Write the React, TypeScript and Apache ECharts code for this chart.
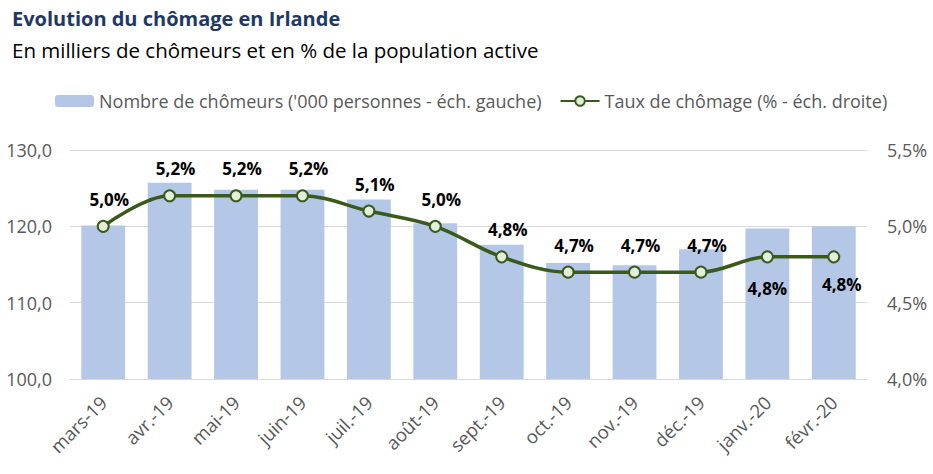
import React, { useEffect, useRef } from "react";
import * as echarts from "echarts";

const categories = ["mars-19", "avr.-19", "mai-19", "juin-19", "juil.-19", "août-19", "sept.-19", "oct.-19", "nov.-19", "déc.-19", "janv.-20", "févr.-20"];
const chomeurs = [120.1, 125.7, 124.8, 124.8, 123.5, 120.4, 117.6, 115.2, 114.9, 117.0, 119.7, 120.0];
const taux = [5.0, 5.2, 5.2, 5.2, 5.1, 5.0, 4.8, 4.7, 4.7, 4.7, 4.8, 4.8];
const belowLabels = [10, 11];

const FONT = "Open Sans";

export default function App() {
  const ref = useRef<HTMLDivElement>(null);
  useEffect(() => {
    document.body.style.margin = "0";
    const chart = echarts.init(ref.current!, null, { renderer: "svg" });
    const fmt = (v: number, d: number) => v.toFixed(d).replace(".", ",");
    chart.setOption({
      animation: false,
      textStyle: { fontFamily: FONT },
      title: {
        text: "Evolution du chômage en Irlande",
        subtext: "En milliers de chômeurs et en % de la population active",
        left: 7,
        top: 3,
        itemGap: 11,
        textStyle: { fontFamily: FONT, fontSize: 20, fontWeight: "bold", color: "#1F3864" },
        subtextStyle: { fontFamily: FONT, fontSize: 20.5, color: "#000000" },
      },
      legend: {
        left: 50,
        top: 87,
        itemWidth: 39,
        itemHeight: 12,
        itemGap: 18,
        textStyle: { fontFamily: FONT, fontSize: 18, color: "#595959" },
        data: [
          { name: "Nombre de chômeurs ('000 personnes - éch. gauche)" },
          { name: "Taux de chômage (% - éch. droite)" },
        ],
      },
      grid: { left: 70, right: 66, top: 150, bottom: 95 },
      xAxis: {
        type: "category",
        data: categories,
        axisTick: { show: false },
        axisLine: { lineStyle: { color: "#D9D9D9" } },
        axisLabel: { rotate: 45, color: "#595959", fontSize: 18.5, margin: 20, fontFamily: FONT },
      },
      yAxis: [
        {
          type: "value",
          min: 100,
          max: 130,
          interval: 10,
          axisLine: { show: false },
          axisTick: { show: false },
          splitLine: { lineStyle: { color: "#D9D9D9" } },
          axisLabel: { color: "#595959", fontSize: 18, margin: 18, formatter: (v: number) => fmt(v, 1), fontFamily: FONT },
        },
        {
          type: "value",
          min: 4.0,
          max: 5.5,
          interval: 0.5,
          axisLine: { show: false },
          axisTick: { show: false },
          splitLine: { show: false },
          axisLabel: { color: "#595959", fontSize: 18, margin: 20, formatter: (v: number) => fmt(v, 1) + "%", fontFamily: FONT },
        },
      ],
      series: [
        {
          name: "Nombre de chômeurs ('000 personnes - éch. gauche)",
          type: "bar",
          data: chomeurs,
          barCategoryGap: "34%",
          itemStyle: { color: "#B4C7E7" },
          yAxisIndex: 0,
        },
        {
          name: "Taux de chômage (% - éch. droite)",
          type: "line",
          yAxisIndex: 1,
          smooth: 0.35,
          symbol: "circle",
          symbolSize: 11,
          lineStyle: { color: "#3A5A1C", width: 3.5 },
          itemStyle: { color: "#E2EFDA", borderColor: "#3A5A1C", borderWidth: 2 },
          data: taux.map((v, i) =>
            belowLabels.includes(i)
              ? { value: v, label: { position: "bottom", distance: i === 11 ? 13 : 17, offset: [i === 11 ? 8 : 0, 0] } }
              : { value: v }
          ),
          label: {
            show: true,
            position: "top",
            distance: 12,
            offset: [6, 0],
            fontFamily: FONT,
            fontSize: 17,
            fontWeight: "bold",
            color: "#000000",
            formatter: (p: any) => fmt(p.value, 1) + "%",
          },
        },
      ],
    });
    return () => chart.dispose();
  }, []);
  return <div ref={ref} style={{ width: 933, height: 474 }} />;
}
